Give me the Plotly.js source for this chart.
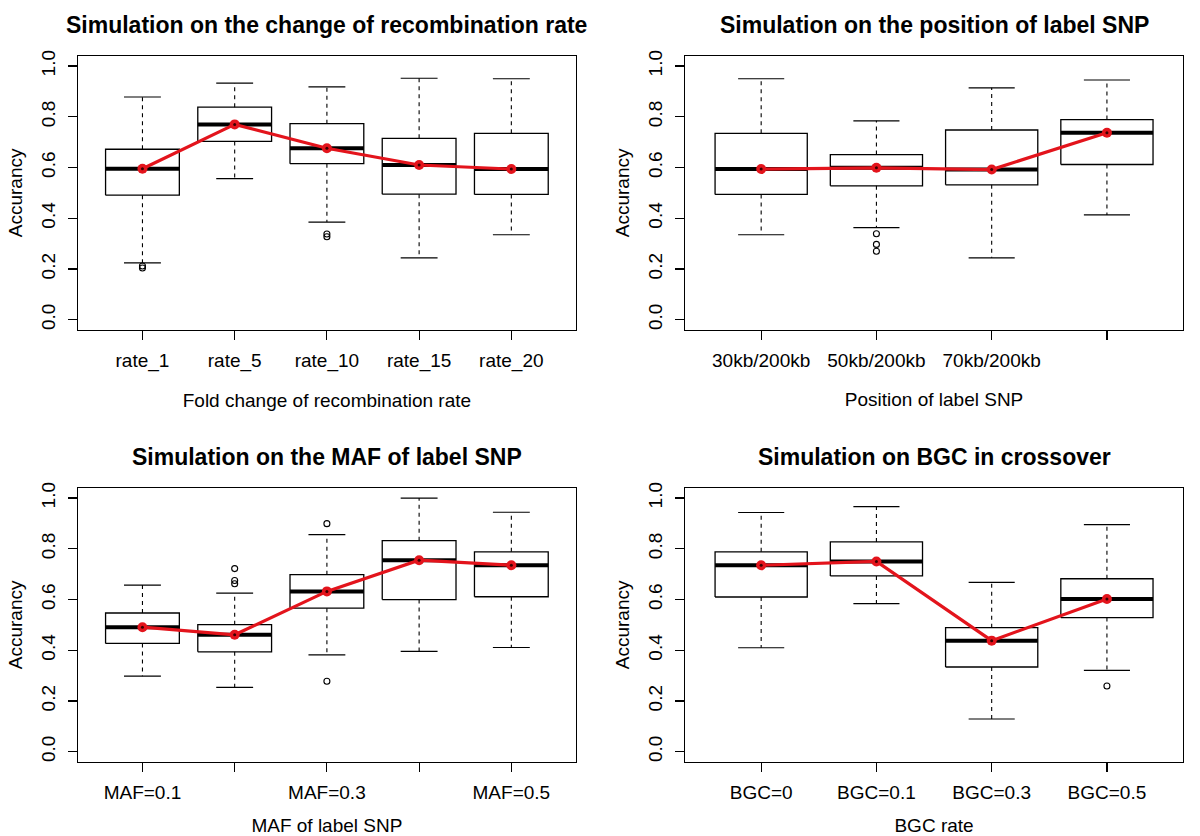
<!DOCTYPE html>
<html>
<head>
<meta charset="utf-8">
<script src="https://cdn.plot.ly/plotly-3.0.1.min.js"></script>
<style>html,body{margin:0;padding:0;background:#fff;}#chart{width:1200px;height:836px;}</style>
</head>
<body>
<div id="chart"></div>
<script>
// ---------- Data ----------
// Panel 1: recombination rate
const rateCats = ["rate_1", "rate_5", "rate_10", "rate_15", "rate_20"];
const rateTickLabels = ["rate_1", "rate_5", "rate_10", "rate_15", "rate_20"];
const rateUpper = [0.878, 0.933, 0.918, 0.952, 0.950];
const rateQ3 = [0.672, 0.838, 0.773, 0.715, 0.735];
const rateMedian = [0.595, 0.770, 0.676, 0.610, 0.594];
const rateQ1 = [0.491, 0.703, 0.615, 0.495, 0.494];
const rateLower = [0.224, 0.556, 0.385, 0.244, 0.335];
const rateOutliers = [[0.212, 0.204], [], [0.338, 0.327], [], []];
const rateMeans = [0.595, 0.770, 0.676, 0.610, 0.594];

// Panel 2: position of label SNP
const posCats = ["30kb/200kb", "50kb/200kb", "70kb/200kb", "90kb/200kb"];
const posTickLabels = ["30kb/200kb", "50kb/200kb", "70kb/200kb", ""];
const posUpper = [0.950, 0.784, 0.914, 0.945];
const posQ3 = [0.735, 0.651, 0.748, 0.789];
const posMedian = [0.594, 0.599, 0.592, 0.737];
const posQ1 = [0.494, 0.528, 0.532, 0.612];
const posLower = [0.335, 0.363, 0.244, 0.413];
const posOutliers = [[], [0.339, 0.297, 0.270], [], []];
const posMeans = [0.594, 0.599, 0.592, 0.737];

// Panel 3: MAF of label SNP
const mafCats = ["MAF=0.1", "MAF=0.2", "MAF=0.3", "MAF=0.4", "MAF=0.5"];
const mafTickLabels = ["MAF=0.1", "", "MAF=0.3", "", "MAF=0.5"];
const mafUpper = [0.657, 0.625, 0.856, 1.000, 0.944];
const mafQ3 = [0.547, 0.501, 0.698, 0.832, 0.788];
const mafMedian = [0.491, 0.461, 0.632, 0.755, 0.735];
const mafQ1 = [0.427, 0.394, 0.566, 0.600, 0.611];
const mafLower = [0.298, 0.254, 0.382, 0.396, 0.411];
const mafOutliers = [[], [0.722, 0.675, 0.662], [0.899, 0.278], [], []];
const mafMeans = [0.491, 0.461, 0.632, 0.755, 0.735];

// Panel 4: BGC in crossover
const bgcCats = ["BGC=0", "BGC=0.1", "BGC=0.3", "BGC=0.5"];
const bgcTickLabels = ["BGC=0", "BGC=0.1", "BGC=0.3", "BGC=0.5"];
const bgcUpper = [0.943, 0.966, 0.668, 0.895];
const bgcQ3 = [0.788, 0.827, 0.489, 0.682];
const bgcMedian = [0.735, 0.750, 0.438, 0.602];
const bgcQ1 = [0.610, 0.693, 0.334, 0.529];
const bgcLower = [0.410, 0.584, 0.129, 0.321];
const bgcOutliers = [[], [], [], [0.259]];
const bgcMeans = [0.735, 0.750, 0.438, 0.602];

const yTicks = [0, 0.2, 0.4, 0.6, 0.8, 1.0];
const yTickLabels = ["0.0", "0.2", "0.4", "0.6", "0.8", "1.0"];

const panelTitles = [
  "Simulation on the change of recombination rate",
  "Simulation on the position of label SNP",
  "Simulation on the MAF of label SNP",
  "Simulation on BGC in crossover"
];
const xTitles = ["Fold change of recombination rate", "Position of label SNP", "MAF of label SNP", "BGC rate"];
const yTitle = "Accurancy";

// ---------- Build traces ----------
const BOXW = 0.4, CAPW = 0.2;
function boxTraces(cats, upper, q3, med, q1, lower, outs, means, xa, ya) {
  const n = cats.length;
  const bx = [], by = [], mx = [], my = [], wx = [], wy = [], cx = [], cy = [], ox = [], oy = [];
  for (let i = 0; i < n; i++) {
    const c = i + 1;
    bx.push(c - BOXW, c + BOXW, c + BOXW, c - BOXW, c - BOXW, null);
    by.push(q1[i], q1[i], q3[i], q3[i], q1[i], null);
    mx.push(c - BOXW, c + BOXW, null);
    my.push(med[i], med[i], null);
    wx.push(c, c, null, c, c, null);
    wy.push(q3[i], upper[i], null, q1[i], lower[i], null);
    cx.push(c - CAPW, c + CAPW, null, c - CAPW, c + CAPW, null);
    cy.push(upper[i], upper[i], null, lower[i], lower[i], null);
    outs[i].forEach(v => { ox.push(c); oy.push(v); });
  }
  const common = {xaxis: xa, yaxis: ya, hoverinfo: 'skip', showlegend: false};
  const idx = cats.map((_, i) => i + 1);
  return [
    Object.assign({type: 'scatter', mode: 'lines', x: wx, y: wy, line: {color: '#000', width: 1.1, dash: '4px,4px'}}, common),
    Object.assign({type: 'scatter', mode: 'lines', x: cx, y: cy, line: {color: '#000', width: 1.2}}, common),
    Object.assign({type: 'scatter', mode: 'lines', x: bx, y: by, fill: 'none', line: {color: '#000', width: 1.3}}, common),
    Object.assign({type: 'scatter', mode: 'lines', x: mx, y: my, line: {color: '#000', width: 4}}, common),
    Object.assign({type: 'scatter', mode: 'markers', x: ox, y: oy, marker: {symbol: 'circle-open', size: 6, color: '#000', line: {width: 1.1}}}, common),
    Object.assign({type: 'scatter', mode: 'lines+markers', x: idx, y: means, line: {color: '#e3141c', width: 3.2}, marker: {color: '#e3141c', size: 10}}, common),
    Object.assign({type: 'scatter', mode: 'markers', x: idx, y: means, marker: {color: '#3a0000', size: 3}}, common)
  ];
}

const data = [].concat(
  boxTraces(rateCats, rateUpper, rateQ3, rateMedian, rateQ1, rateLower, rateOutliers, rateMeans, 'x', 'y'),
  boxTraces(posCats, posUpper, posQ3, posMedian, posQ1, posLower, posOutliers, posMeans, 'x2', 'y2'),
  boxTraces(mafCats, mafUpper, mafQ3, mafMedian, mafQ1, mafLower, mafOutliers, mafMeans, 'x3', 'y3'),
  boxTraces(bgcCats, bgcUpper, bgcQ3, bgcMedian, bgcQ1, bgcLower, bgcOutliers, bgcMeans, 'x4', 'y4')
);

// ---------- Layout ----------
const W = 1200, H = 836;
const FONT = '"Liberation Sans", Arial, Helvetica, sans-serif';
const colDom = [[77.9 / W, 575.9 / W], [685.1 / W, 1183 / W]];
const rowDom = [[1 - 329.9 / H, 1 - 55.9 / H], [1 - 761.9 / H, 1 - 487.9 / H]];

function xAxis(cats, labels, dom, anchor, title) {
  const n = cats.length;
  return {
    domain: dom, anchor: anchor,
    range: [0.5 - 0.04 * n, n + 0.5 + 0.04 * n],
    tickmode: 'array', tickvals: cats.map((_, i) => i + 1), ticktext: labels,
    ticks: 'outside', ticklen: 9, tickwidth: 1.2, tickcolor: '#000',
    ticklabelstandoff: 4,
    showline: true, mirror: true, linecolor: '#000', linewidth: 1.3,
    showgrid: false, zeroline: false, fixedrange: true,
    tickfont: {family: FONT, size: 19, color: '#000'},
    title: {text: title, font: {family: FONT, size: 19, color: '#000'}, standoff: 22}
  };
}
function yAxis(dom, anchor) {
  return {
    domain: dom, anchor: anchor,
    range: [-0.04, 1.04],
    tickmode: 'array', tickvals: yTicks, ticktext: yTickLabels, tickangle: -90,
    ticks: 'outside', ticklen: 9, tickwidth: 1.2, tickcolor: '#000',
    ticklabelstandoff: 5,
    showline: true, mirror: true, linecolor: '#000', linewidth: 1.3,
    showgrid: false, zeroline: false, fixedrange: true,
    tickfont: {family: FONT, size: 19, color: '#000'},
    title: {text: yTitle, font: {family: FONT, size: 19, color: '#000'}, standoff: 10}
  };
}

const annotations = panelTitles.map((t, i) => {
  const col = i % 2, row = Math.floor(i / 2);
  return {
    text: '<b>' + t + '</b>', xref: 'paper', yref: 'paper',
    x: (colDom[col][0] + colDom[col][1]) / 2, y: rowDom[row][1] + 31 / H,
    xanchor: 'center', yanchor: 'middle', showarrow: false,
    font: {family: FONT, size: 23, color: '#000'}
  };
});

const layout = {
  width: W, height: H,
  margin: {l: 0, r: 0, t: 0, b: 0},
  paper_bgcolor: '#fff', plot_bgcolor: '#fff',
  showlegend: false,
  xaxis: xAxis(rateCats, rateTickLabels, colDom[0], 'y', xTitles[0]),
  yaxis: yAxis(rowDom[0], 'x'),
  xaxis2: xAxis(posCats, posTickLabels, colDom[1], 'y2', xTitles[1]),
  yaxis2: yAxis(rowDom[0], 'x2'),
  xaxis3: xAxis(mafCats, mafTickLabels, colDom[0], 'y3', xTitles[2]),
  yaxis3: yAxis(rowDom[1], 'x3'),
  xaxis4: xAxis(bgcCats, bgcTickLabels, colDom[1], 'y4', xTitles[3]),
  yaxis4: yAxis(rowDom[1], 'x4'),
  annotations: annotations
};

Plotly.newPlot('chart', data, layout, {displayModeBar: false, staticPlot: true});
</script>
</body>
</html>
